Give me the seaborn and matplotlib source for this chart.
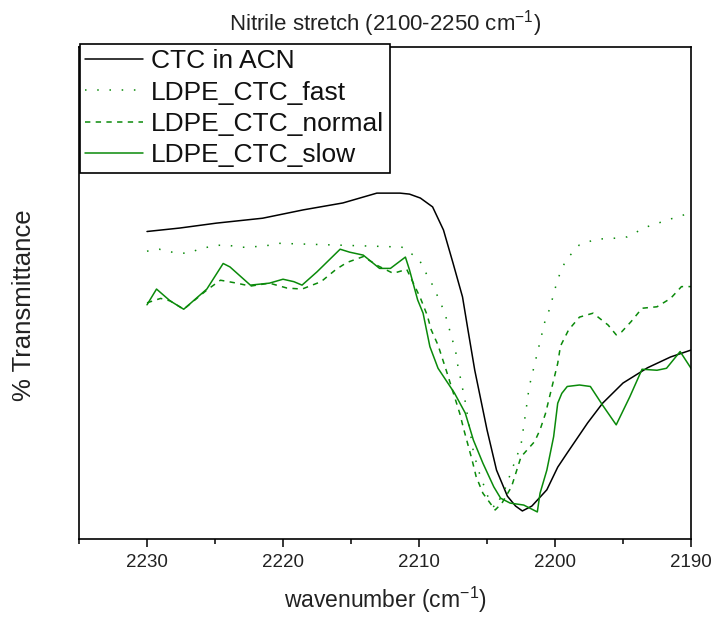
import matplotlib
matplotlib.use("Agg")
import matplotlib.pyplot as plt
from matplotlib.ticker import MultipleLocator
import seaborn as sns
import pandas as pd

# ---- data ----
acn_x = [2230.0, 2227.6, 2224.9, 2221.5, 2218.5, 2215.6, 2213.1, 2211.4, 2210.7, 2209.9,
         2209.0, 2208.2, 2207.5, 2206.8, 2206.4, 2205.9, 2205.0, 2204.3, 2203.5, 2202.9,
         2202.4, 2201.7, 2200.6, 2199.8, 2199.1, 2197.6, 2196.5, 2195.0, 2193.2, 2191.5, 2190.0]
acn_y = [62.5, 63.2, 64.2, 65.2, 66.9, 68.3, 70.3, 70.3, 70.1, 69.3,
         67.5, 62.8, 56.1, 49.2, 42.5, 34.3, 22.2, 14.0, 8.7, 6.7,
         5.7, 6.7, 10.0, 14.6, 17.5, 23.6, 27.6, 31.7, 34.8, 37.0, 38.4]

fast_x = [2230.0, 2229.1, 2228.4, 2227.6, 2226.9, 2226.2, 2225.4, 2224.7, 2224.0, 2223.2,
          2222.5, 2221.0, 2220.3, 2212.0, 2211.3, 2210.0, 2209.7, 2209.4, 2209.0, 2208.4,
          2208.1, 2207.3, 2207.2, 2206.9, 2206.6, 2206.0, 2205.6, 2204.8, 2204.4, 2203.7,
          2203.1, 2202.5, 2202.1, 2201.9, 2200.7, 2200.4, 2200.0, 2199.8, 2199.5, 2199.2,
          2198.2, 2196.9, 2196.1, 2194.7, 2193.3, 2191.1, 2190.0]
fast_y = [58.5, 58.9, 58.4, 58.1, 58.1, 58.9, 59.4, 59.7, 59.7, 59.3,
          59.3, 59.7, 60.1, 59.4, 59.4, 56.9, 55.2, 53.6, 51.6, 47.9,
          45.9, 38.1, 36.0, 32.0, 27.9, 17.7, 13.7, 7.6, 6.3, 10.0,
          14.6, 19.1, 26.8, 30.9, 44.7, 46.7, 50.8, 52.8, 54.8, 56.7,
          59.8, 61.0, 61.0, 61.4, 63.4, 65.4, 66.3]

normal_x = [2230.0, 2229.0, 2228.3, 2227.3, 2225.6, 2224.6, 2223.4, 2222.4, 2221.0, 2219.7,
            2218.6, 2217.2, 2216.1, 2215.3, 2214.1, 2213.0, 2211.9, 2210.9, 2209.9, 2209.4,
            2209.1, 2208.6, 2208.0, 2207.0, 2206.7, 2206.1, 2205.8, 2205.3, 2204.4, 2203.9,
            2203.2, 2202.5, 2201.5, 2201.1, 2200.7, 2200.4, 2200.1, 2199.8, 2199.6, 2199.0,
            2198.2, 2197.2, 2196.1, 2195.5, 2195.1, 2194.4, 2193.6, 2192.5, 2191.5, 2190.7, 2190.0]
normal_y = [48.0, 48.9, 48.4, 46.7, 50.6, 52.6, 52.0, 51.4, 52.0, 51.0,
            50.8, 52.3, 54.8, 56.2, 57.4, 55.5, 54.0, 54.8, 49.0, 45.5,
            42.5, 39.4, 34.3, 25.5, 22.2, 16.1, 12.7, 9.3, 5.9, 7.3,
            10.6, 16.7, 19.8, 22.2, 25.5, 28.9, 32.3, 35.7, 39.2, 42.5,
            45.1, 45.9, 43.5, 41.5, 42.1, 44.2, 46.9, 47.2, 48.9, 51.3, 51.3]

slow_x = [2230.0, 2229.3, 2228.3, 2227.3, 2225.6, 2224.4, 2223.9, 2222.4, 2221.0, 2220.0,
          2219.2, 2218.6, 2217.5, 2215.8, 2215.1, 2214.1, 2212.9, 2212.1, 2211.0, 2210.7,
          2210.1, 2209.7, 2209.2, 2208.6, 2207.4, 2206.6, 2206.0, 2205.3, 2204.5, 2204.0,
          2203.3, 2202.3, 2201.3, 2201.1, 2200.6, 2200.1, 2199.8, 2199.5, 2199.1, 2198.2,
          2197.4, 2196.5, 2195.5, 2194.5, 2193.6, 2192.5, 2191.8, 2190.8, 2190.0]
slow_y = [47.6, 50.8, 48.4, 46.7, 50.8, 56.0, 55.3, 51.6, 52.0, 52.8,
          52.3, 51.6, 54.3, 58.9, 58.3, 57.7, 55.0, 55.0, 57.3, 54.7,
          48.6, 45.9, 39.1, 34.7, 29.7, 25.6, 20.1, 15.4, 10.6, 8.3,
          7.3, 6.9, 5.5, 9.3, 14.0, 20.8, 27.6, 29.6, 31.0, 31.3,
          31.0, 27.2, 23.2, 28.9, 34.5, 34.3, 34.7, 38.1, 34.7]

labels = ["CTC in ACN", "LDPE_CTC_fast", "LDPE_CTC_normal", "LDPE_CTC_slow"]
xticks = [2230, 2220, 2210, 2200, 2190]

# ---- style ----
sns.set_theme(style="white")
plt.rcParams["font.family"] = ["Liberation Sans", "DejaVu Sans"]
plt.rcParams["mathtext.fontset"] = "custom"
plt.rcParams["mathtext.rm"] = "Liberation Sans"
plt.rcParams["mathtext.it"] = "Liberation Sans"

GREEN = "#0a8a0a"
W, H = 715, 621
fig = plt.figure(figsize=(W / 100, H / 100), dpi=100)
ax = fig.add_axes([79 / W, (H - 539) / H, 612 / W, 492 / H])

series = [
    (acn_x, acn_y, labels[0], "black", "-"),
    (fast_x, fast_y, labels[1], GREEN, (0, (1, 7))),
    (normal_x, normal_y, labels[2], GREEN, (0, (3.5, 3.5))),
    (slow_x, slow_y, labels[3], GREEN, "-"),
]
handles = []
for xs, ys, lab, col, ls in series:
    df = pd.DataFrame({"x": xs, "y": ys})
    sns.lineplot(data=df, x="x", y="y", ax=ax, color=col, lw=1.1,
                 sort=False, estimator=None, label=lab)
    ln = ax.lines[-1]
    ln.set_linestyle(ls)
    handles.append(ln)

ax.set_xlim(2235, 2190)
ax.set_ylim(0, 100)
ax.set_xticks(xticks)
ax.xaxis.set_minor_locator(MultipleLocator(5))
ax.set_yticks([])
ax.tick_params(axis="x", which="major", direction="out", length=6, width=1.1,
               colors="black", labelsize=13.5, labelcolor="#222222", pad=5, bottom=True)
ax.tick_params(axis="x", which="minor", direction="out", length=3.5, width=1.1,
               colors="black", bottom=True)
for sp in ax.spines.values():
    sp.set_visible(True)
    sp.set_color("black")
    sp.set_linewidth(1.2)

ax.set_xlabel(r"wavenumber (cm$^{\mathregular{-1}}$)", fontsize=16.5, color="#222222", labelpad=10)
ax.set_ylabel("% Transmittance", fontsize=18.5, color="#222222")
ax.yaxis.set_label_coords(-0.071, 0.475)
ax.set_title(r"Nitrile stretch (2100-2250 cm$^{\mathregular{-1}}$)", fontsize=16,
             color="#222222", pad=12)

leg = ax.legend(handles, labels, loc="upper left",
                bbox_to_anchor=(80 / W, 1 - 44 / H), bbox_transform=fig.transFigure,
                borderaxespad=0, frameon=True, fancybox=False, framealpha=1,
                edgecolor="black", fontsize=19, handlelength=2.2,
                handletextpad=0.3, labelspacing=0.28, borderpad=0.2)
leg.get_frame().set_linewidth(1.2)
for t in leg.get_texts():
    t.set_color("#111111")

fig.savefig("out.png", dpi=100, facecolor="white")
